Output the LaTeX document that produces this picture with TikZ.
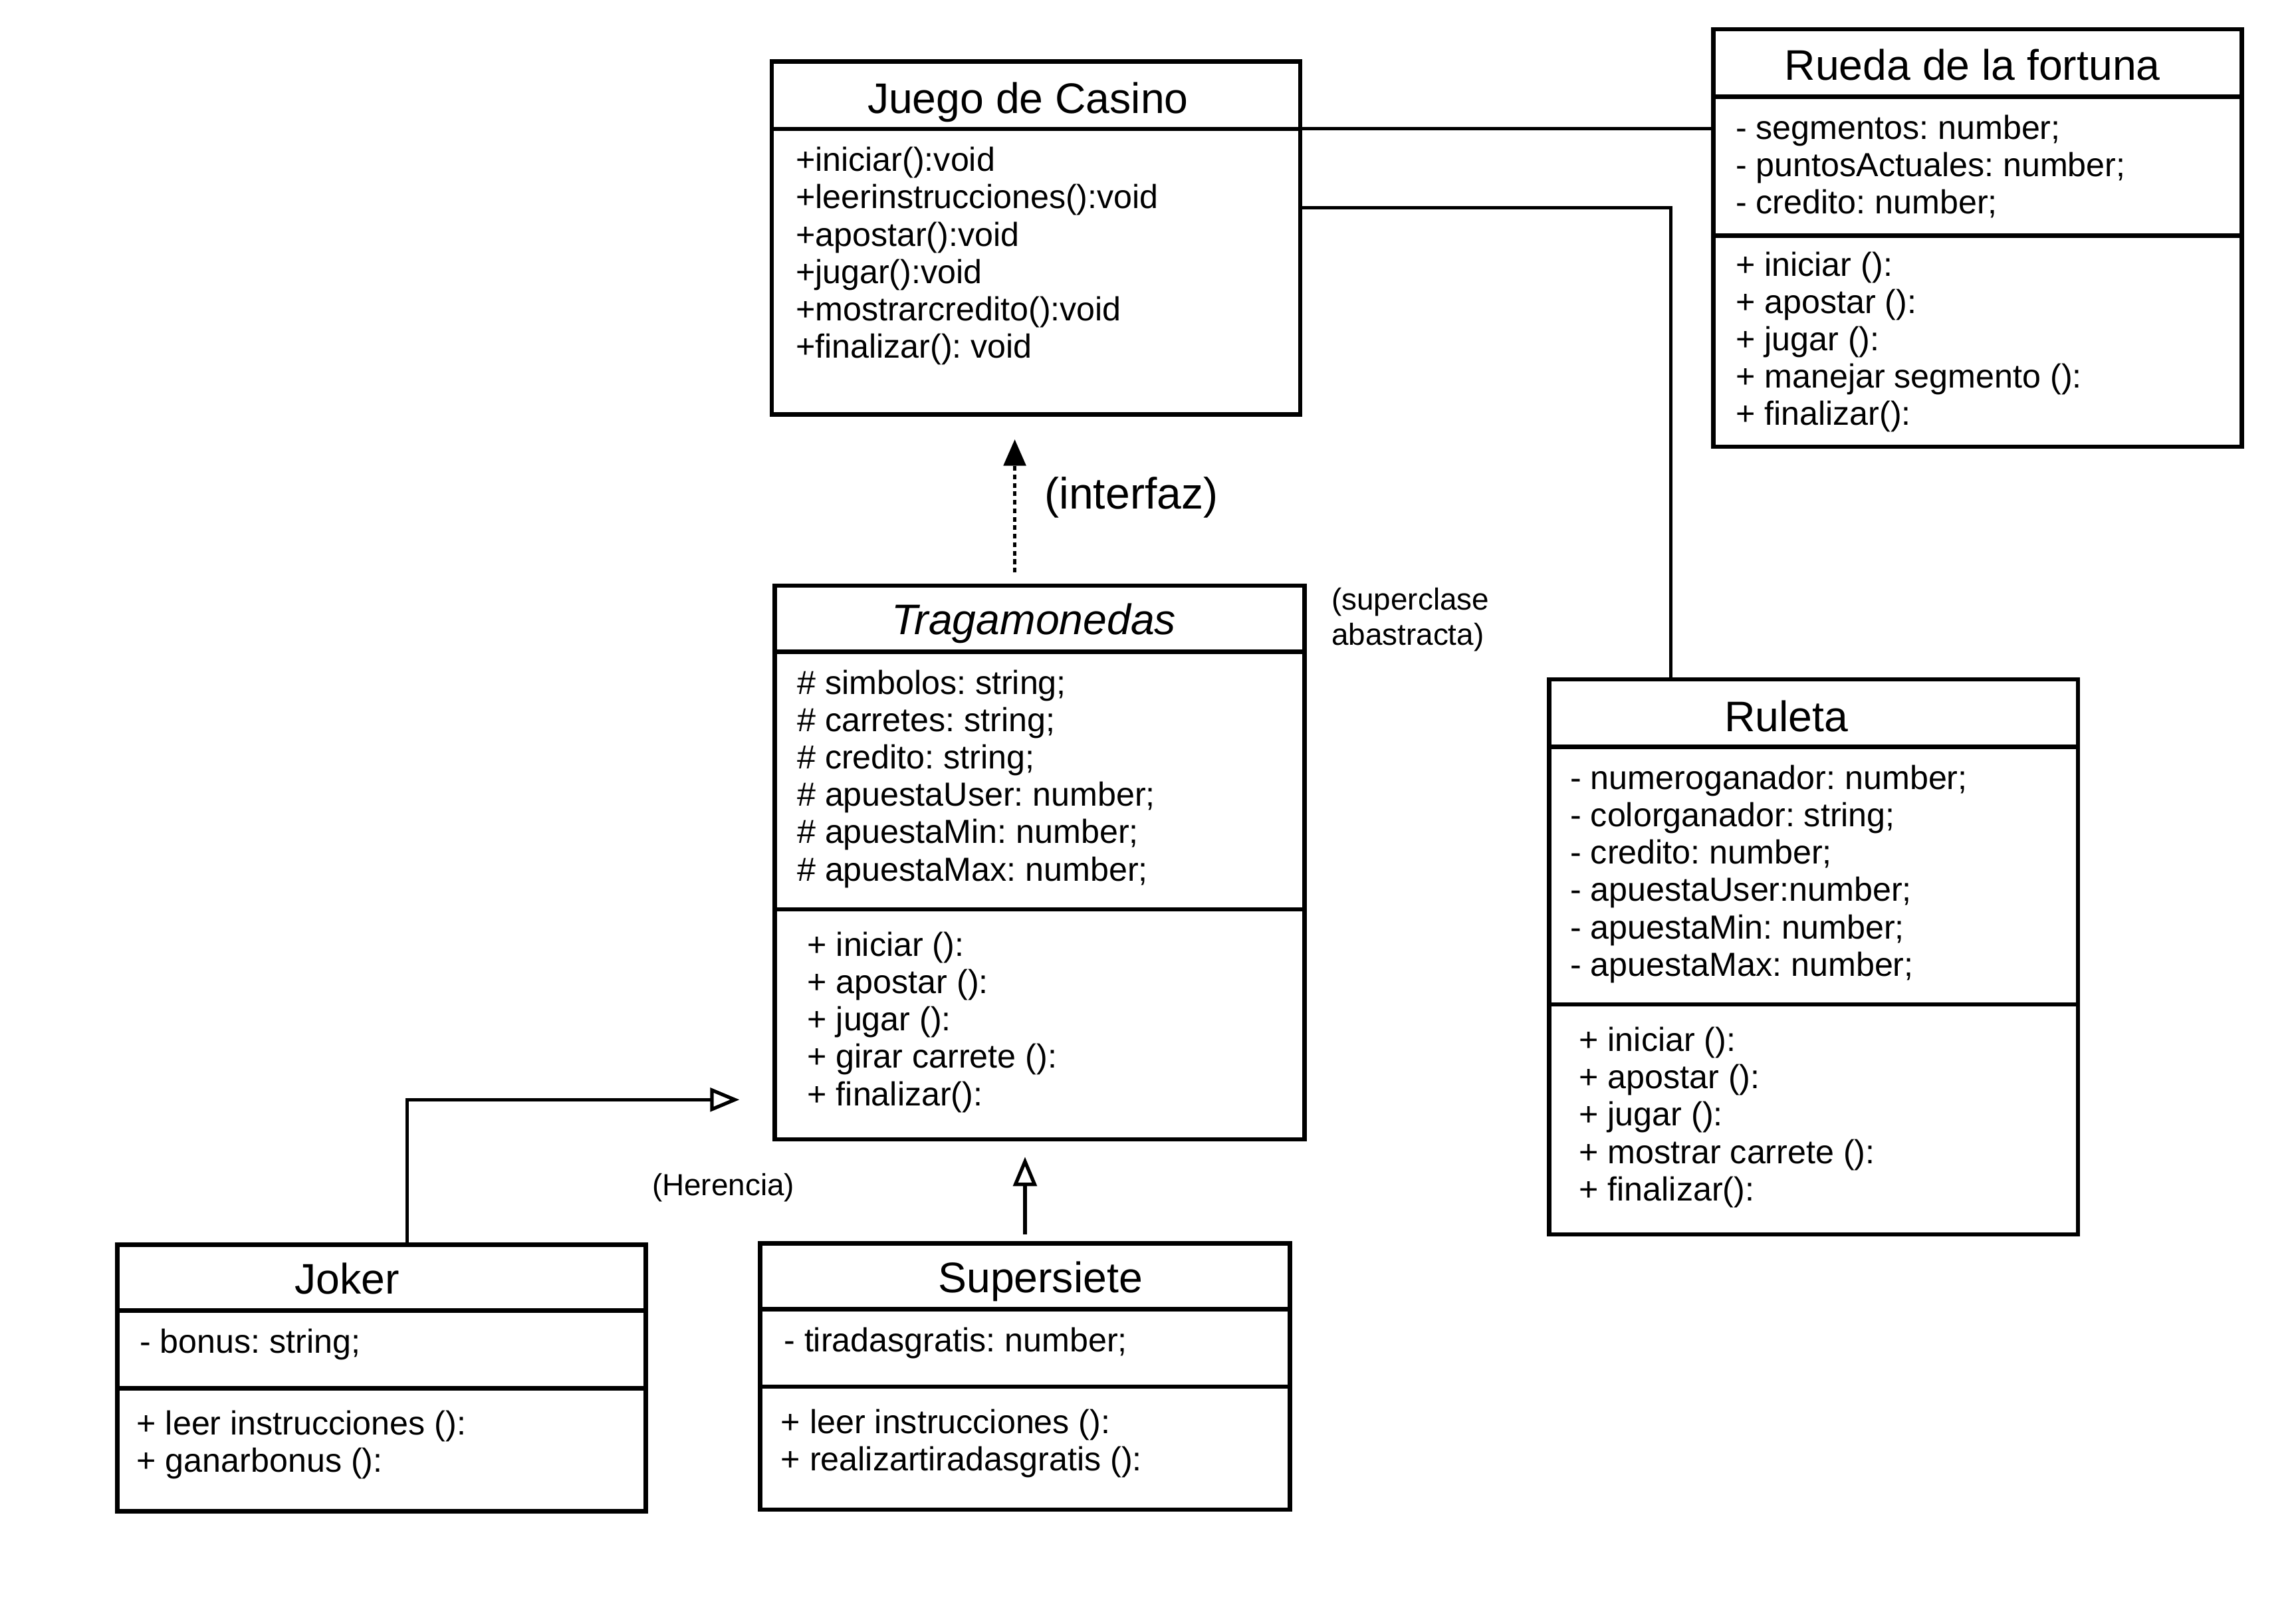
\documentclass[tikz,border=0pt]{standalone}
\usepackage{fontspec}
\setmainfont{Liberation Sans}
\frenchspacing
\usetikzlibrary{arrows.meta,calc}
\newcommand\memberlist[4]{%
  \foreach \t [count=\i from 0] in {#4}
    \node[mem] (#1\i) at (#2,{#3+7+\i*25.5}) {\t};}
\begin{document}
\begin{tikzpicture}[x=0.5pt,y=-0.5pt,
  box/.style={draw,line width=1.5pt,rectangle,anchor=north west,inner sep=0pt,outer sep=0pt},
  divline/.style={line width=1.5pt},
  mem/.style={anchor=base west,inner sep=0pt,font=\fontsize{11.4pt}{13pt}\selectfont\frenchspacing},
  ttl/.style={anchor=base,inner sep=0pt,font=\fontsize{14.6pt}{16pt}\selectfont},
  note/.style={anchor=base west,inner sep=0pt,font=\fontsize{10.4pt}{12pt}\selectfont},
  conn/.style={line width=1.2pt},
  inherit/.style={conn,-{Triangle[open,length=10pt,width=8pt,line width=1.2pt]}},
  realize/.style={line width=1.2pt,dash pattern=on 1.6pt off 1.3pt,-{Triangle[length=9pt,width=7.5pt]}}]
\useasboundingbox (0,0) rectangle (1568,1098);
\fill[white] (0,0) rectangle (1568,1098);

% Juego de Casino
\node[box,minimum width=180.5pt,minimum height=120.5pt] (jc) at (527,42) {};
\draw[divline] ($(jc.north west)+(0,46)$) -- ($(jc.north east)+(0,46)$);
\node[ttl] (jct) at (702,77.5) {Juego de Casino};
\memberlist{jcm}{543}{110}{+iniciar():void,+leerinstrucciones():void,+apostar():void,+jugar():void,+mostrarcredito():void,+finalizar(): void}

% Rueda de la fortuna
\node[box,minimum width=180.5pt,minimum height=142.5pt] (rf) at (1170,20) {};
\draw[divline] ($(rf.north west)+(0,46)$) -- ($(rf.north east)+(0,46)$);
\draw[divline] ($(rf.north west)+(0,141)$) -- ($(rf.north east)+(0,141)$);
\node[ttl] (rft) at (1347,54.5) {Rueda de la fortuna};
\memberlist{rfa}{1185}{88}{- segmentos: number;,- puntosActuales: number;,- credito: number;}
\memberlist{rfm}{1185}{181.5}{+ iniciar ():,+ apostar ():,+ jugar ():,+ manejar segmento ():,+ finalizar():}

% Tragamonedas
\node[box,minimum width=181pt,minimum height=189pt] (tr) at (529,400) {};
\draw[divline] ($(tr.north west)+(0,45)$) -- ($(tr.north east)+(0,45)$);
\draw[divline] ($(tr.north west)+(0,221)$) -- ($(tr.north east)+(0,221)$);
\node[ttl,font=\fontsize{14.6pt}{16pt}\selectfont\itshape] (trt) at (706,433.5) {Tragamonedas};
\memberlist{tra}{544}{467}{\# simbolos: string;,\# carretes: string;,\# credito: string;,\# apuestaUser: number;,\# apuestaMin: number;,\# apuestaMax: number;}
\memberlist{trm}{551}{646}{+ iniciar ():,+ apostar ():,+ jugar ():,+ girar carrete ():,+ finalizar():}

% Ruleta
\node[box,minimum width=180.5pt,minimum height=189.5pt] (ru) at (1058,464) {};
\draw[divline] ($(ru.north west)+(0,46)$) -- ($(ru.north east)+(0,46)$);
\draw[divline] ($(ru.north west)+(0,222)$) -- ($(ru.north east)+(0,222)$);
\node[ttl] (rut) at (1220,499.5) {Ruleta};
\memberlist{rua}{1072}{532}{- numeroganador: number;,- colorganador: string;,- credito: number;,- apuestaUser:number;,- apuestaMin: number;,- apuestaMax: number;}
\memberlist{rum}{1078}{711}{+ iniciar ():,+ apostar ():,+ jugar ():,+ mostrar carrete ():,+ finalizar():}

% Joker
\node[box,minimum width=180.5pt,minimum height=91pt] (jk) at (80,850) {};
\draw[divline] ($(jk.north west)+(0,45)$) -- ($(jk.north east)+(0,45)$);
\draw[divline] ($(jk.north west)+(0,98)$) -- ($(jk.north east)+(0,98)$);
\node[ttl] (jkt) at (237,883.5) {Joker};
\memberlist{jka}{95}{917}{- bonus: string;}
\memberlist{jkm}{93}{973}{+ leer instrucciones ():,+ ganarbonus ():}

% Supersiete
\node[box,minimum width=181pt,minimum height=91pt] (ss) at (519,849) {};
\draw[divline] ($(ss.north west)+(0,45)$) -- ($(ss.north east)+(0,45)$);
\draw[divline] ($(ss.north west)+(0,98)$) -- ($(ss.north east)+(0,98)$);
\node[ttl] (sst) at (710.5,882.5) {Supersiete};
\memberlist{ssa}{535}{916}{- tiradasgratis: number;}
\memberlist{ssm}{533}{972}{+ leer instrucciones ():,+ realizartiradasgratis ():}

% notes
\node[anchor=base west,inner sep=0pt,font=\fontsize{15pt}{17pt}\selectfont] (interfaz) at (713,347.5) {(interfaz)};
\node[note] (sup1) at (909,416.5) {(superclase};
\node[note] (sup2) at (909,440.5) {abastracta)};
\node[note] (her) at (445,816.5) {(Herencia)};

% connectors
\draw[conn] ($(jc.north east)+(0,46)$) -- ($(rf.north west)+(0,68)$);
\draw[conn] ($(jc.north east)+(0,100)$) -| ($(ru.north west)+(83,0)$);
\coordinate (realtip) at ($(jc.south west)+(166,17)$);
\draw[realize] ($(tr.north west)+(164,-9)$) -- (realtip);
\coordinate (jktip) at ($(tr.south west)+(-24,-27)$);
\draw[inherit] ($(jk.north west)+(198,0)$) |- (jktip);
\coordinate (sstip) at ($(tr.south west)+(171,12)$);
\draw[inherit] ($(ss.north west)+(181,-6)$) -- (sstip);
\end{tikzpicture}
\end{document}
